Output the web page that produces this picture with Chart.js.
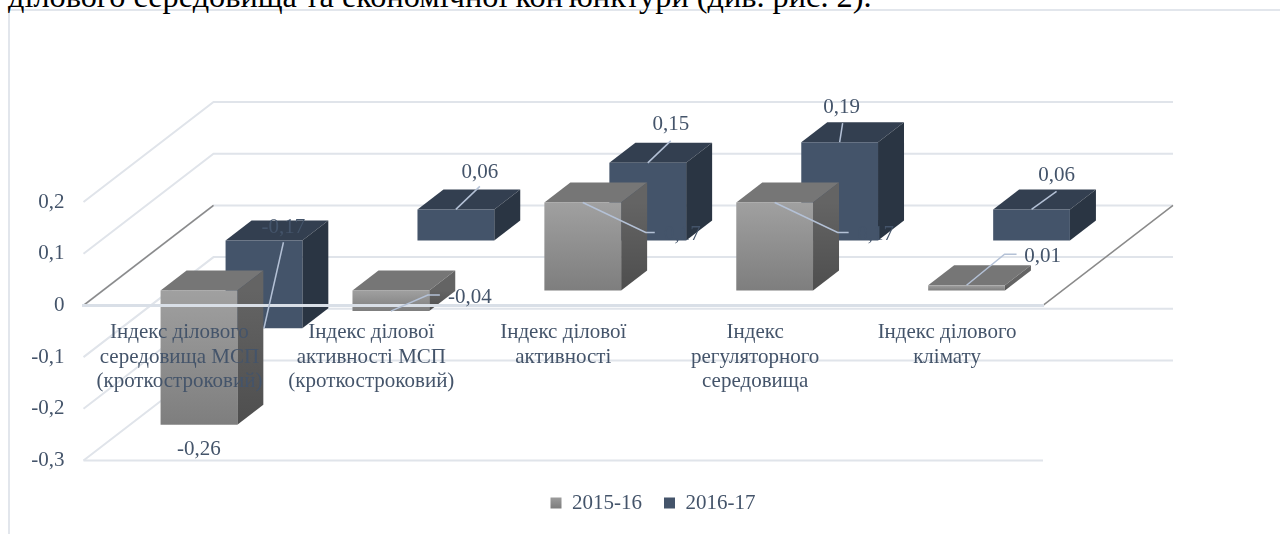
<!DOCTYPE html>
<html>
<head>
<meta charset="utf-8">
<script src="https://cdn.jsdelivr.net/npm/chart.js@4/dist/chart.umd.min.js"></script>
<style>
html,body{margin:0;padding:0;width:1280px;height:534px;overflow:hidden;background:#fff}
#frame{position:absolute;left:8px;top:9px;width:1272px;height:525px;border-top:2px solid #e2e6ec;border-left:2px solid #e2e6ec;box-sizing:border-box}
#para{position:absolute;left:8px;top:-21px;font:32.3px "Liberation Serif",serif;color:#000;white-space:nowrap;line-height:34px}
canvas{position:absolute;left:0;top:0}
</style>
</head>
<body>
<div id="frame"></div>
<div id="para">ділового середовища та економічної кон'юнктури (див. рис. 2).</div>
<canvas id="c" width="1280" height="534"></canvas>
<script>
const categories = [
  ["Індекс ділового","середовища МСП","(кроткостроковий)"],
  ["Індекс ділової","активності МСП","(кроткостроковий)"],
  ["Індекс ділової","активності"],
  ["Індекс","регуляторного","середовища"],
  ["Індекс ділового","клімату"]
];
const seriesNames = ["2015-16","2016-17"];
const values2015 = [-0.26,-0.04,0.17,0.17,0.01];
const values2016 = [-0.17,0.06,0.15,0.19,0.06];

const TEXT = "#44546a", GRID = "#e0e4ea", LEADER = "#b4c1d6", FLOOR = "#8a8a8a";
const FONT = '"Liberation Serif", serif';
const FONT_SIZE = 21;
const WALL = {dx:130, dy:-100};
const BAR_DEPTH = {dx:26, dy:-20};
const SERIES_OFFSET = [{dx:19.5, dy:-15},{dx:84.5, dy:-65}];
const LEGEND_SHIFT = {x:131.5, y:10};
const FACES = [
  {top:"#767676", sideTop:"#646464", sideBottom:"#4e4e4e", frontTop:"#a0a0a0", frontBottom:"#7e7e7e"},
  {top:"#333f50", sideTop:"#2a3543", sideBottom:"#2a3543", frontTop:"#44546a", frontBottom:"#44546a"}
];
// leader polyline points and text centre, relative to each bar's end
const LABEL_LAYOUT = [
  [{text:[0,25]},
   {pts:[[37,-16],[49,-16]], text:[79,-14]},
   {pts:[[63,30],[72,30]], text:[99.5,32]},
   {pts:[[63,30],[74,30]], text:[101,32]},
   {pts:[[38,-31],[50,-31]], text:[76,-29]}],
  [{pts:[[19.5,-86]], text:[19.5,-101]},
   {pts:[[24,-23]], text:[24,-37]},
   {pts:[[23,-22]], text:[23,-38]},
   {pts:[[3,-19]], text:[2,-35]},
   {pts:[[25,-18]], text:[25,-34]}]
];

function faceGradient(ctx, i){
  const f = FACES[i];
  if (f.frontTop === f.frontBottom || ctx.type !== "data" || !ctx.parsed) return f.frontTop;
  const y = ctx.chart.scales.y, v = ctx.parsed.y;
  const a = y.getPixelForValue(Math.max(v,0)), b = y.getPixelForValue(Math.min(v,0));
  if (!isFinite(a) || !isFinite(b)) return f.frontTop;
  const g = ctx.chart.ctx.createLinearGradient(0,a,0,b);
  g.addColorStop(0,f.frontTop); g.addColorStop(1,f.frontBottom);
  return g;
}
function poly(c, pts, fill){
  c.beginPath(); pts.forEach((p,i)=> i? c.lineTo(p[0],p[1]) : c.moveTo(p[0],p[1]));
  c.closePath(); c.fillStyle = fill; c.fill();
}

const box3d = {
  id:"box3d",
  afterLayout(chart){
    const l = chart.legend;
    l.left += LEGEND_SHIFT.x; l.right += LEGEND_SHIFT.x;
    l.top += LEGEND_SHIFT.y; l.bottom += LEGEND_SHIFT.y;
  },
  beforeDatasetsDraw(chart){
    const c = chart.ctx, y = chart.scales.y, a = chart.chartArea;
    c.save();
    c.lineWidth = 2; c.strokeStyle = GRID;
    y.ticks.forEach(t=>{
      const p = y.getPixelForValue(t.value);
      c.beginPath();
      c.moveTo(a.left,p);
      c.lineTo(a.left+WALL.dx,p+WALL.dy);
      c.lineTo(a.right+WALL.dx,p+WALL.dy);
      c.stroke();
    });
    // front edge of the bottom plane
    c.beginPath(); c.moveTo(a.left,a.bottom); c.lineTo(a.right,a.bottom); c.stroke();
    // side edges of the zero plane
    const z = y.getPixelForValue(0);
    c.strokeStyle = FLOOR; c.lineWidth = 1.5;
    [a.left,a.right].forEach(x=>{
      c.beginPath(); c.moveTo(x,z); c.lineTo(x+WALL.dx,z+WALL.dy); c.stroke();
    });
    c.restore();
  },
  beforeDatasetDraw(chart,args){
    const i = args.index, c = chart.ctx, o = SERIES_OFFSET[i], f = FACES[i];
    c.save();
    c.translate(o.dx,o.dy);
    args.meta.data.forEach(el=>{
      const L = el.x-el.width/2, R = el.x+el.width/2;
      const T = Math.min(el.y,el.base), B = Math.max(el.y,el.base);
      const d = BAR_DEPTH;
      if (![L,R,T,B].every(isFinite)) return;
      poly(c,[[L,T],[R,T],[R+d.dx,T+d.dy],[L+d.dx,T+d.dy]],f.top);
      const g = c.createLinearGradient(0,T,0,B);
      g.addColorStop(0,f.sideTop); g.addColorStop(1,f.sideBottom);
      poly(c,[[R,T],[R+d.dx,T+d.dy],[R+d.dx,B+d.dy],[R,B]],g);
    });
  },
  afterDatasetDraw(chart){ chart.ctx.restore(); },
  afterDraw(chart){
    const c = chart.ctx;
    c.save();
    c.font = FONT_SIZE+"px "+FONT; c.textAlign="center"; c.textBaseline="middle";
    chart.data.datasets.forEach((ds,i)=>{
      const o = SERIES_OFFSET[i];
      chart.getDatasetMeta(i).data.forEach((el,j)=>{
        const lay = LABEL_LAYOUT[i][j];
        const ax = el.x+o.dx, ay = el.y+o.dy;
        if (lay.pts){
          c.strokeStyle = LEADER; c.lineWidth = 1.5;
          c.beginPath(); c.moveTo(ax,ay);
          lay.pts.forEach(p=>c.lineTo(ax+p[0],ay+p[1]));
          c.stroke();
        }
        c.fillStyle = TEXT;
        c.fillText(ds.data[j].toFixed(2).replace(".",","),ax+lay.text[0],ay+lay.text[1]);
      });
    });
    c.restore();
  }
};

new Chart(document.getElementById("c"),{
  type:"bar",
  data:{
    labels:categories,
    datasets:[
      {label:seriesNames[0],data:values2015,backgroundColor:c=>faceGradient(c,0),clip:false,grouped:false},
      {label:seriesNames[1],data:values2016,backgroundColor:c=>faceGradient(c,1),clip:false,grouped:false}
    ]
  },
  plugins:[box3d],
  options:{
    responsive:false,
    animation:false,
    devicePixelRatio:1,
    layout:{padding:{top:202,right:237,bottom:20.5,left:0}},
    datasets:{bar:{categoryPercentage:1,barPercentage:0.4,grouped:false}},
    plugins:{
      tooltip:{enabled:false},
      legend:{
        position:"bottom",
        labels:{
          color:TEXT,
          font:{family:FONT,size:FONT_SIZE},
          boxWidth:11,boxHeight:11,padding:22,
          generateLabels(chart){
            const items = Chart.defaults.plugins.legend.labels.generateLabels(chart);
            items.forEach((it,i)=>{
              it.lineWidth = 0; it.strokeStyle = "transparent";
              if (i===0){
                const g = chart.ctx.createLinearGradient(0,496,0,508);
                g.addColorStop(0,FACES[0].frontTop); g.addColorStop(1,FACES[0].frontBottom);
                it.fillStyle = g;
              } else it.fillStyle = FACES[1].frontTop;
            });
            return items;
          }
        }
      }
    },
    scales:{
      x:{
        position:{y:0},
        afterFit(s){s.height=0;},
        grid:{display:false,drawTicks:false},
        border:{display:true,color:"#d9dfe7",width:3,z:1},
        ticks:{
          z:2,color:TEXT,autoSkip:false,maxRotation:0,minRotation:0,padding:15,
          font:{family:FONT,size:FONT_SIZE,lineHeight:1.167}
        }
      },
      y:{
        min:-0.3,max:0.2,
        afterFit(s){s.width=83.5;},
        grid:{display:false,drawTicks:false},
        border:{display:false},
        ticks:{
          stepSize:0.1,color:TEXT,padding:19,
          font:{family:FONT,size:FONT_SIZE},
          callback(v){
            const n = Math.round(v*10)/10;
            return n===0 ? "0" : n.toFixed(1).replace(".",",");
          }
        }
      }
    }
  }
});
</script>
</body>
</html>
